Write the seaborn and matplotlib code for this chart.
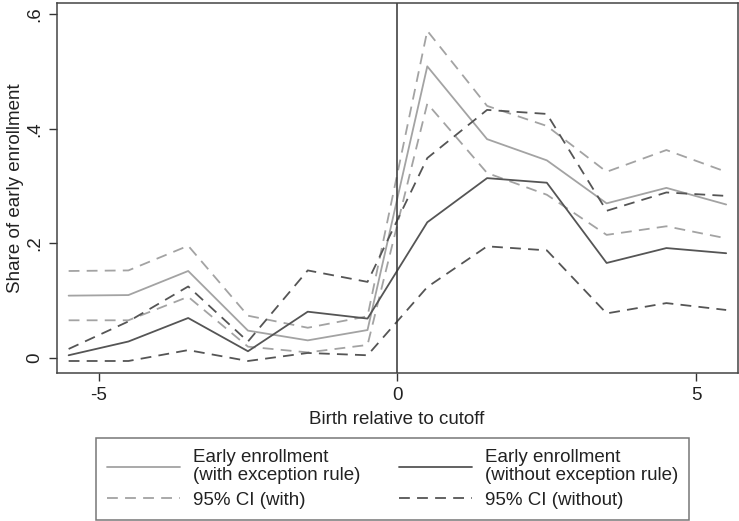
import numpy as np
import pandas as pd
import matplotlib
matplotlib.use('Agg')
import matplotlib.pyplot as plt
import seaborn as sns

# distancia al corte (meses)
birth = [-5.5, -4.5, -3.5, -2.5, -1.5, -0.5, 0.5, 1.5, 2.5, 3.5, 4.5, 5.5]

# con regla de excepcion
with_rule = [0.109, 0.110, 0.152, 0.048, 0.031, 0.049, 0.509, 0.382, 0.345, 0.270, 0.297, 0.268]
with_hi = [0.152, 0.153, 0.196, 0.074, 0.053, 0.073, 0.571, 0.440, 0.405, 0.325, 0.363, 0.325]
with_lo = [0.066, 0.066, 0.107, 0.020, 0.010, 0.023, 0.444, 0.323, 0.285, 0.215, 0.230, 0.209]

# sin regla de excepcion
without_rule = [0.005, 0.029, 0.070, 0.012, 0.081, 0.069, 0.237, 0.314, 0.306, 0.166, 0.192, 0.183]
without_hi = [0.016, 0.064, 0.125, 0.029, 0.153, 0.133, 0.349, 0.433, 0.426, 0.257, 0.289, 0.283]
without_lo = [-0.005, -0.005, 0.014, -0.005, 0.009, 0.005, 0.124, 0.195, 0.188, 0.078, 0.096, 0.084]

sns.set_style('white')
plt.rcParams['font.family'] = ['Liberation Sans', 'DejaVu Sans']

light = '#a3a3a3'
dark = '#555555'
dash = (6, 4)
fs = 13.5

fig = plt.figure(figsize=(7.39, 5.21), dpi=100)
ax = fig.add_axes([0.0767, 0.284, 0.9213, 0.7097])

sns.lineplot(x=birth, y=with_rule, color=light, lw=1.3, ax=ax,
             label='Early enrollment\n(with exception rule)')
sns.lineplot(x=birth, y=with_hi, color=light, lw=1.3, ax=ax,
             label='95% CI (with)').lines[-1].set_dashes(dash)
sns.lineplot(x=birth, y=with_lo, color=light, lw=1.3, ax=ax).lines[-1].set_dashes(dash)
sns.lineplot(x=birth, y=without_rule, color=dark, lw=1.3, ax=ax,
             label='Early enrollment\n(without exception rule)')
sns.lineplot(x=birth, y=without_hi, color=dark, lw=1.3, ax=ax,
             label='95% CI (without)').lines[-1].set_dashes(dash)
sns.lineplot(x=birth, y=without_lo, color=dark, lw=1.3, ax=ax).lines[-1].set_dashes(dash)

ax.axvline(0, color='#333333', lw=1.1)

ax.set_xlim(-5.7, 5.69)
ax.set_ylim(-0.026, 0.619)
ax.set_xticks([-5, 0, 5])
ax.set_xticklabels(['-5', '0', '5'])
ax.set_yticks([0, 0.2, 0.4, 0.6])
ax.set_yticklabels(['0', '.2', '.4', '.6'], rotation=90, va='center')
ax.tick_params(axis='both', direction='out', length=6, width=1, color='#333333',
               labelsize=fs, labelcolor='#222222', left=True, bottom=True, pad=4)
ax.set_xlabel('Birth relative to cutoff', fontsize=fs, color='#222222', labelpad=5)
ax.set_ylabel('Share of early enrollment', fontsize=fs, color='#222222', labelpad=1.5)
for s in ax.spines.values():
    s.set_color('#444444')
    s.set_linewidth(1.1)

handles, labels = ax.get_legend_handles_labels()
leg = ax.legend(handles, labels, ncol=2,
                loc='upper left', bbox_to_anchor=(96 / 739, 1 - 438 / 521),
                bbox_transform=fig.transFigure, frameon=True, fancybox=False,
                edgecolor='#555555', fontsize=fs, handlelength=3.9, handletextpad=0.65,
                columnspacing=2.1, labelspacing=0.4, borderpad=0.6, borderaxespad=0)
leg.get_frame().set_linewidth(1.1)
for t in leg.get_texts():
    t.set_linespacing(1.05)
    t.set_color('#222222')

fig.savefig('out.png', dpi=100)
